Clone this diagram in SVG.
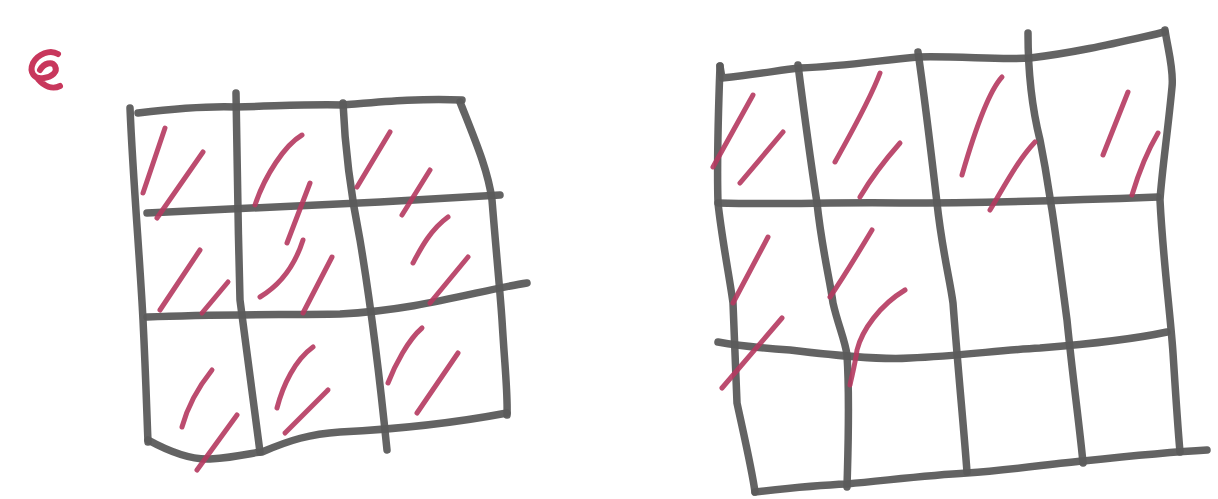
<svg xmlns="http://www.w3.org/2000/svg" width="1218" height="499" viewBox="0 0 1218 499">
<style>
.g{fill:none;stroke:#5b5b5b;stroke-width:7.5;stroke-linecap:round;stroke-linejoin:round;opacity:0.95}
.r{fill:none;stroke:#b5395f;stroke-width:5;stroke-linecap:round;opacity:0.9}
</style>
<rect width="1218" height="499" fill="#ffffff"/>
<g id="mark">
<path d="M58,54 C50,49 38,54 33,63 C29,72 34,80 44,78 C52,77 58,72 55,66 C52,61 44,63 40,70 M38,79 C44,86 52,90 60,86" fill="none" stroke="#c8375c" stroke-width="6" stroke-linecap="round"/>
</g>
<g id="left-grid">
<g id="left-lines">
<path class="g" d="M138,113 C180,108 210,106 236,107 C280,106 310,104 343,105 C380,102 420,98 462,100"/>
<path class="g" d="M147,213 C220,210 300,206 380,202 C430,199 470,197 500,195"/>
<path class="g" d="M147,317 C220,314 280,315 340,314 C420,310 480,290 527,283"/>
<path class="g" d="M148,440 C170,452 190,460 210,459 C240,457 255,452 262,452 C290,440 310,434 340,432 C420,428 470,420 507,413"/>
<path class="g" d="M130,108 C133,180 140,260 143,320 C146,380 147,420 148,442"/>
<path class="g" d="M236,93 C237,150 238,230 240,300 C248,360 256,420 260,452"/>
<path class="g" d="M343,103 C345,150 350,190 360,240 C370,300 380,380 387,450"/>
<path class="g" d="M460,102 C475,140 488,170 492,200 C496,250 500,290 502,320 C505,370 508,395 507,415"/>
</g>
<g id="left-hatch">
<path class="r" d="M165,128 L143,193"/>
<path class="r" d="M203,152 L157,218"/>
<path class="r" d="M302,135 C285,145 265,175 255,205"/>
<path class="r" d="M310,183 L287,243"/>
<path class="r" d="M390,132 L357,187"/>
<path class="r" d="M430,170 L402,215"/>
<path class="r" d="M200,250 L160,310"/>
<path class="r" d="M228,282 L202,313"/>
<path class="r" d="M303,240 C295,265 280,285 260,297"/>
<path class="r" d="M332,257 L303,313"/>
<path class="r" d="M448,217 C430,230 420,250 413,263"/>
<path class="r" d="M468,257 L430,303"/>
<path class="r" d="M212,370 C200,385 188,405 182,427"/>
<path class="r" d="M237,415 L197,470"/>
<path class="r" d="M313,347 C295,360 283,385 277,408"/>
<path class="r" d="M328,390 L285,433"/>
<path class="r" d="M422,328 C408,340 395,365 388,383"/>
<path class="r" d="M458,353 L417,413"/>
</g>
</g>
<g id="right-grid">
<g id="right-lines">
<path class="g" d="M720,66 L722,78 C760,74 780,70 800,68 C850,66 880,60 918,57 C960,56 1000,60 1030,58 C1080,52 1120,42 1165,32"/>
<path class="g" d="M718,203 C780,205 830,202 900,203 C1000,203 1080,200 1158,197"/>
<path class="g" d="M718,342 C740,346 760,348 790,350 C840,356 880,360 910,358 C960,356 1000,350 1040,348 C1090,344 1130,340 1167,332"/>
<path class="g" d="M755,492 C790,488 820,485 847,484 C890,480 930,475 967,473 C1010,470 1050,464 1083,461 C1130,456 1170,452 1207,450"/>
<path class="g" d="M720,66 C718,120 717,170 718,203 C722,240 730,280 733,303 C735,350 736,380 737,403 C745,440 752,470 755,492"/>
<path class="g" d="M798,65 C805,120 812,170 817,203 C822,250 830,280 833,303 C838,325 845,340 847,355 C850,400 848,450 847,487"/>
<path class="g" d="M918,52 C925,100 932,160 937,203 C942,250 950,280 953,303 C958,370 964,430 967,472"/>
<path class="g" d="M1028,33 C1028,60 1030,100 1040,140 C1048,180 1050,200 1052,210 C1058,250 1063,290 1067,320 C1073,380 1080,430 1083,463"/>
<path class="g" d="M1165,30 C1168,50 1174,70 1172,87 C1168,130 1162,170 1160,200 C1163,260 1170,310 1173,353 C1176,400 1178,430 1180,452"/>
</g>
<g id="right-hatch">
<path class="r" d="M753,95 L713,167"/>
<path class="r" d="M783,132 L740,183"/>
<path class="r" d="M880,73 C870,100 850,135 835,162"/>
<path class="r" d="M900,143 C885,160 870,180 860,197"/>
<path class="r" d="M1002,77 C990,90 975,130 962,175"/>
<path class="r" d="M1035,142 C1018,160 1005,185 990,210"/>
<path class="r" d="M1128,92 L1103,155"/>
<path class="r" d="M1158,133 C1148,150 1138,175 1132,195"/>
<path class="r" d="M768,237 L733,303"/>
<path class="r" d="M782,318 L722,388"/>
<path class="r" d="M872,230 C860,250 845,275 830,297"/>
<path class="r" d="M905,290 C880,305 862,330 857,350 C855,365 852,375 850,385"/>
</g>
</g>
</svg>
